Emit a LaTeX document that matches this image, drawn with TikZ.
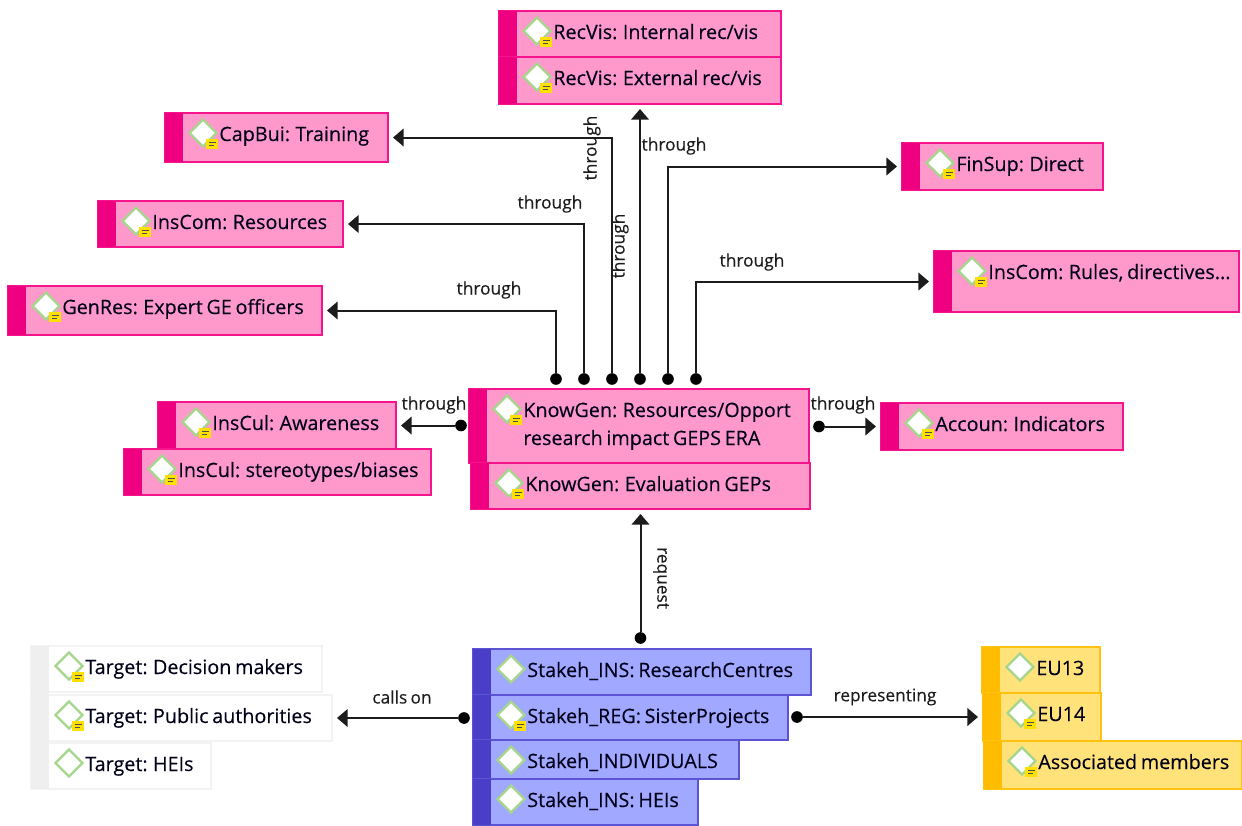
\documentclass[tikz,border=0pt]{standalone}
\usepackage{fontspec}
\setmainfont[WordSpace=0.72,RawFeature={embolden=0.25}]{Open Sans}
\usetikzlibrary{arrows.meta,shapes.geometric}
\definecolor{PinkFill}{HTML}{FF99CC}
\definecolor{PinkEdge}{HTML}{F5148C}
\definecolor{PinkBand}{HTML}{EE0080}
\definecolor{BlueFill}{HTML}{A0A8FF}
\definecolor{BlueEdge}{HTML}{5C54D4}
\definecolor{BlueBand}{HTML}{4A3DC8}
\definecolor{GoldFill}{HTML}{FFE27A}
\definecolor{GoldEdge}{HTML}{FFC20E}
\definecolor{GoldBand}{HTML}{FFBC00}
\definecolor{GreyEdge}{HTML}{F3F3F3}
\definecolor{GreyBand}{HTML}{EFEFEF}
\definecolor{IconEdge}{HTML}{A5D68C}
\definecolor{NoteFill}{HTML}{FFE000}
\definecolor{InkLine}{HTML}{1C1C1C}
\tikzset{
  itembox/.style={rectangle,inner sep=0pt,outer sep=0pt,line width=1.2pt},
  pinkitem/.style={itembox,fill=PinkFill,draw=PinkEdge},
  blueitem/.style={itembox,fill=BlueFill,draw=BlueEdge},
  golditem/.style={itembox,fill=GoldFill,draw=GoldEdge},
  greyitem/.style={itembox,fill=white,draw=GreyEdge},
  itemicon/.style={diamond,aspect=1,draw=IconEdge,fill=white,line width=1.4pt,inner sep=0pt,minimum size=16.8pt},
  itemnote/.style={rectangle,fill=NoteFill,inner sep=0pt,minimum width=7.2pt,minimum height=6pt},
  itemtext/.style={anchor=base west,inner sep=0pt,text=black!90!blue,font=\fontsize{11.85}{16.8}\selectfont},
  linktext/.style={inner sep=0pt,text=InkLine,font=\fontsize{10.4}{12}\selectfont},
  linkdot/.style={circle,fill=black,inner sep=0pt,minimum size=7pt},
  link/.style={draw=InkLine,line width=1.2pt,-{Triangle[length=6.4pt,width=10.6pt]},shorten >=3pt},
}
% name, x0, y0, x1, y1, item style, band colour, text
\newcommand{\drawitem}[8]{
  \node[#6,minimum width={(#4-#2)*0.6pt},minimum height={(#5-#3)*0.6pt}] (#1) at ({(#2+#4)/2},{(#3+#5)/2}) {};
  \node[rectangle,fill=#7,inner sep=0pt,minimum width=10.8pt,minimum height={(#5-#3)*0.6pt}] (#1-band) at ({#2+9},{(#3+#5)/2}) {};
  \node[itemicon] (#1-icon) at ({#2+38},{#3+20}) {};
  \node[itemtext] (#1-text) at ({#2+54},{#3+28}) {#8};
}
\newcommand{\addnote}[1]{
  \node[itemnote] (#1-note) at ([shift={(9,11)}]#1-icon.center) {};
  \draw[black!70,line width=.8pt] ([shift={(-3.5,-1.5)}]#1-note.center) -- ([shift={(3.5,-1.5)}]#1-note.center);
  \draw[black!70,line width=.8pt] ([shift={(-3.5,1.8)}]#1-note.center) -- ([shift={(1.5,1.8)}]#1-note.center);
}
\begin{document}
\begin{tikzpicture}[x=0.6pt,y=-0.6pt]
  \useasboundingbox (0,0) rectangle (1242,825);
  \drawitem{recint}{499}{11}{781}{57}{pinkitem}{PinkBand}{RecVis: Internal rec/vis}
  \drawitem{recext}{499}{57}{781}{104}{pinkitem}{PinkBand}{RecVis: External rec/vis}
  \drawitem{capbui}{165}{113}{388}{162}{pinkitem}{PinkBand}{CapBui: Training}
  \drawitem{insres}{98}{201}{343}{247}{pinkitem}{PinkBand}{InsCom: Resources}
  \drawitem{genres}{8}{286}{322}{335}{pinkitem}{PinkBand}{GenRes: Expert GE officers}
  \drawitem{finsup}{902}{143}{1103}{190}{pinkitem}{PinkBand}{FinSup: Direct}
  \drawitem{insrul}{934}{251}{1239}{312}{pinkitem}{PinkBand}{InsCom: Rules, directives...}
  \drawitem{kgres}{469}{389}{809}{463}{pinkitem}{PinkBand}{\parbox[t]{200pt}{KnowGen: Resources/Opport\\research impact GEPS ERA}}
  \drawitem{kgeval}{471}{463}{810}{509}{pinkitem}{PinkBand}{KnowGen: Evaluation GEPs}
  \drawitem{insaw}{158}{402}{396}{449}{pinkitem}{PinkBand}{InsCul: Awareness}
  \drawitem{insst}{124}{449}{431}{495}{pinkitem}{PinkBand}{InsCul: stereotypes/biases}
  \drawitem{accoun}{881}{403}{1123}{450}{pinkitem}{PinkBand}{Accoun: Indicators}
  \drawitem{strc}{473}{649}{811}{695}{blueitem}{BlueBand}{Stakeh\_INS: ResearchCentres}
  \drawitem{stsis}{473}{695}{788}{740}{blueitem}{BlueBand}{Stakeh\_REG: SisterProjects}
  \drawitem{stind}{473}{740}{739}{779}{blueitem}{BlueBand}{Stakeh\_INDIVIDUALS}
  \drawitem{sthei}{473}{779}{698}{825}{blueitem}{BlueBand}{Stakeh\_INS: HEIs}
  \drawitem{tgdec}{31}{646}{322}{692}{greyitem}{GreyBand}{Target: Decision makers}
  \drawitem{tgpub}{31}{695}{332}{741}{greyitem}{GreyBand}{Target: Public authorities}
  \drawitem{tghei}{31}{743}{211}{789}{greyitem}{GreyBand}{Target: HEIs}
  \fill[GreyBand] (31,646) rectangle (49,789);
  \drawitem{eutri}{982}{647}{1100}{693}{golditem}{GoldBand}{EU13}
  \drawitem{eufou}{983}{693}{1101}{741}{golditem}{GoldBand}{EU14}
  \drawitem{assoc}{984}{741}{1242}{789}{golditem}{GoldBand}{Associated members}

  \addnote{recint} \addnote{recext} \addnote{capbui} \addnote{insres}
  \addnote{genres} \addnote{finsup} \addnote{insrul} \addnote{kgres}
  \addnote{kgeval} \addnote{insaw} \addnote{insst} \addnote{accoun}
  \addnote{stsis} \addnote{tgdec} \addnote{tgpub} \addnote{eufou} \addnote{assoc}

  \node[linkdot] (dgen) at (556,379) {};
  \node[linkdot] (dres) at (584,379) {};
  \node[linkdot] (dcap) at (612,379) {};
  \node[linkdot] (drec) at (640,379) {};
  \node[linkdot] (dfin) at (668,379) {};
  \node[linkdot] (drul) at (696,379) {};
  \node[linkdot] (daw) at (461,425.5) {};
  \node[linkdot] (dacc) at (819,426.5) {};
  \node[linkdot] (dreq) at (640.5,638) {};
  \node[linkdot] (dcal) at (464,718) {};
  \node[linkdot] (drep) at (797,717) {};

  \draw[link] (dgen) |- (genres.east);
  \draw[link] (dres) |- (insres.east);
  \draw[link] (dcap) |- (capbui.east);
  \draw[link] (drec) -- (recext.south);
  \draw[link] (dfin) |- (finsup.west);
  \draw[link] (drul) |- (insrul.west);
  \draw[link] (daw) -- (insaw.east);
  \draw[link] (dacc) -- (accoun.west);
  \draw[link] (dreq) -- (kgeval.south);
  \draw[link] (dcal) -- (tgpub.east);
  \draw[link] (drep) -- (eufou.west);

  \node[linktext] (lgen) at (489,290) {through};
  \node[linktext] (lres) at (550,204) {through};
  \node[linktext,rotate=90] (lcap) at (592,148) {through};
  \node[linktext,rotate=90] (lrec) at (620,246) {through};
  \node[linktext] (lfin) at (674,146) {through};
  \node[linktext] (lrul) at (752,262) {through};
  \node[linktext] (law) at (434,405) {through};
  \node[linktext] (lacc) at (843,405) {through};
  \node[linktext,rotate=-90] (lreq) at (661,578) {request};
  \node[linktext] (lcal) at (402,697) {calls on};
  \node[linktext] (lrep) at (885,697) {representing};
\end{tikzpicture}
\end{document}
